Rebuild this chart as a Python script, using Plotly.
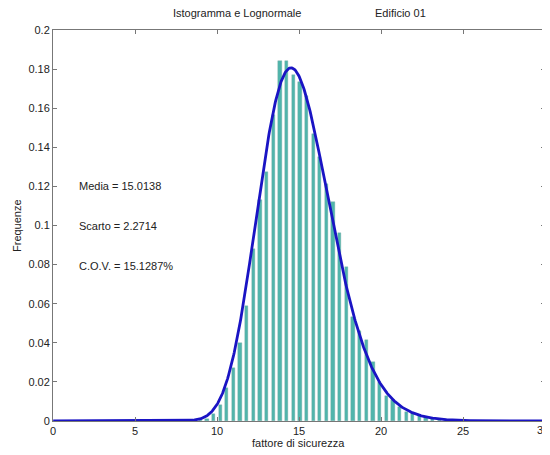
import numpy as np
import plotly.graph_objects as go

# istogramma (frequenze normalizzate)
bin_centri = [8.98, 9.385, 9.79, 10.195, 10.6, 11.005, 11.41, 11.815, 12.22, 12.625,
              13.03, 13.435, 13.84, 14.245, 14.65, 15.055, 15.46, 15.865, 16.27, 16.675,
              17.08, 17.485, 17.89, 18.295, 18.7, 19.105, 19.51, 19.915, 20.32, 20.725,
              21.13, 21.535, 21.94, 22.345, 22.75, 23.155, 23.56, 23.965, 24.37, 24.775]
frequenze = [0.0005, 0.0012, 0.0035, 0.008, 0.0167, 0.027, 0.0397, 0.059, 0.088, 0.113,
             0.1275, 0.1565, 0.184, 0.184, 0.177, 0.1735, 0.166, 0.147, 0.135, 0.121,
             0.112, 0.096, 0.079, 0.0534, 0.046, 0.0414, 0.030, 0.020, 0.013, 0.0107,
             0.0073, 0.0048, 0.0039, 0.003, 0.002, 0.0015, 0.001, 0.0007, 0.0004, 0.0002]

media = 15.0138
scarto = 2.2714
cov = scarto / media

# lognormale con stessa media e scarto
s_ln = np.sqrt(np.log(1 + cov**2))
mu_ln = np.log(media) - 0.5 * s_ln**2
xc = np.linspace(0.01, 30, 900)
yc = np.exp(-(np.log(xc) - mu_ln)**2 / (2 * s_ln**2)) / (xc * s_ln * np.sqrt(2 * np.pi))

# la pagina ha 8px di margine: la figura parte da (8, 8)
OFF = 8
W, H = 550 - OFF, 455 - OFF
L, R, T, B = 53 - OFF, W - (545 - OFF), 30 - OFF, H - (421 - OFF)

fig = go.Figure()
fig.add_trace(go.Bar(x=bin_centri, y=frequenze, width=0.2,
                     marker=dict(color='#4fb5ac', line=dict(color='#7aa8a4', width=0.4))))
fig.add_trace(go.Scatter(x=xc, y=yc, mode='lines', line=dict(color='#1a14c4', width=2.8)))

font = dict(family='Liberation Sans, Arial, sans-serif', size=11, color='#222')
axis = dict(showline=True, linecolor='#777', linewidth=1, mirror='ticks', ticks='inside',
            ticklen=4, tickcolor='#777', showgrid=False, zeroline=False, tickfont=font,
            automargin=False)

fig.update_layout(
    width=W, height=H, showlegend=False,
    margin=dict(l=L, r=R, t=T, b=B),
    plot_bgcolor='white', paper_bgcolor='white', font=font, bargap=0,
    xaxis=dict(range=[0, 30], tickvals=[0, 5, 10, 15, 20, 25], **axis),
    yaxis=dict(range=[0, 0.2], tickvals=[round(0.02 * i, 2) for i in range(11)],
               ticktext=['0', '0.02', '0.04', '0.06', '0.08', '0.1', '0.12', '0.14', '0.16', '0.18', '0.2'],
               **axis),
)


def px(x, y):
    # coordinate della pagina -> paper
    return (x - OFF - L) / (W - L - R), 1 - (y - OFF - T) / (H - T - B)


testi = [('Istogramma e Lognormale', 237, 13, 'center', 0),
         ('Edificio 01', 400, 13, 'center', 0),
         ('fattore di sicurezza', 298, 443, 'center', 0),
         ('Frequenze', 17, 226, 'center', -90),
         ('30', 543, 430, 'center', 0),
         ('Media = %.4f' % media, 77, 186, 'left', 0),
         ('Scarto = %.4f' % scarto, 77, 226, 'left', 0),
         ('C.O.V. = %.4f%%' % (cov * 100), 77, 266, 'left', 0)]
for t, x, y, xa, ang in testi:
    ax, ay = px(x, y)
    fig.add_annotation(text=t, x=ax, y=ay, xref='paper', yref='paper', showarrow=False,
                       font=font, xanchor=xa, yanchor='middle', textangle=ang)

fig.write_html("out.html")
